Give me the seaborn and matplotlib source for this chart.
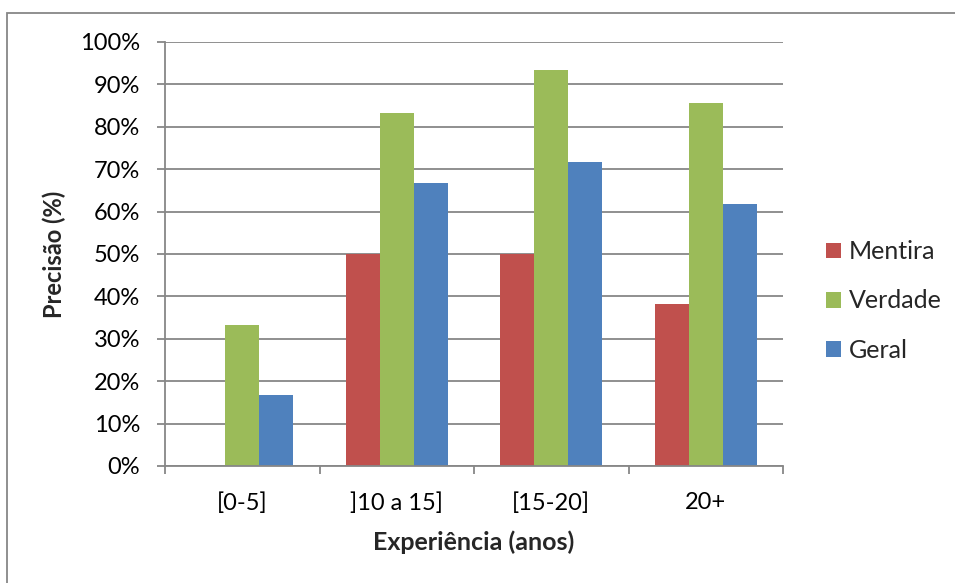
import numpy as np
import pandas as pd
import matplotlib.pyplot as plt
import seaborn as sns
from matplotlib.patches import Rectangle

# Dados
categorias = ["[0-5]", "]10 a 15]", "[15-20]", "20+"]
series = ["Mentira", "Verdade", "Geral"]
mentira = [0.0, 50.0, 50.0, 38.1]
verdade = [33.3, 83.3, 93.3, 85.7]
geral = [16.7, 66.7, 71.7, 61.9]
cores = ["#C0504D", "#9BBB59", "#4F81BD"]

df = pd.DataFrame({
    "Experiência": categorias * 3,
    "Série": [s for s in series for _ in categorias],
    "Precisão": mentira + verdade + geral,
})

sns.set_theme(style="white")
plt.rcParams["font.family"] = ["Lato", "DejaVu Sans"]

grid_col = "#878787"

fig = plt.figure(figsize=(9.55, 5.83), dpi=100)
ax = fig.add_axes([165 / 955, 1 - 466 / 583, 618 / 955, 424 / 583])

sns.barplot(data=df, x="Experiência", y="Precisão", hue="Série",
            hue_order=series, order=categorias, palette=cores,
            width=0.66, saturation=1, ax=ax, linewidth=0)

ax.set_ylim(0, 100)
ax.set_xlim(-0.5, 3.5)
ax.set_yticks(np.arange(0, 101, 10))
ax.set_yticklabels([f"{v}%" for v in range(0, 101, 10)])
ax.yaxis.grid(True, color=grid_col, linewidth=1.3)
ax.set_axisbelow(True)

for s in ["top", "right"]:
    ax.spines[s].set_visible(False)
for s in ["left", "bottom"]:
    ax.spines[s].set_color(grid_col)
    ax.spines[s].set_linewidth(1.3)

ax.tick_params(axis="y", which="major", left=True, length=6, width=1.3,
               color=grid_col, pad=12, labelsize=17, labelcolor="black")
ax.set_xticks(np.arange(-0.5, 4, 1), minor=True)
ax.tick_params(axis="x", which="minor", bottom=True, length=6, width=1.3,
               color=grid_col)
ax.tick_params(axis="x", which="major", bottom=False, length=0, pad=19,
               labelsize=17, labelcolor="black")

ax.set_xlabel("Experiência (anos)", fontsize=18, fontweight="bold",
              labelpad=12)
ax.set_ylabel("Precisão (%)", fontsize=17, fontweight="bold", labelpad=10)

ax.legend(loc="center left", bbox_to_anchor=(826 / 955, 1 - 301 / 583),
          bbox_transform=fig.transFigure, frameon=False, fontsize=18,
          handlelength=0.6, handleheight=0.6, handletextpad=0.3,
          labelspacing=1.05, borderaxespad=0, borderpad=0)

# moldura do gráfico (só os lados esquerdo e superior ficam visíveis)
fig.patches.append(Rectangle((7 / 955, -0.1), 1.2, 1 - 13 / 583 + 0.1,
                             transform=fig.transFigure, fill=False,
                             edgecolor=grid_col, linewidth=1.3))

fig.savefig("out.png", dpi=100)
